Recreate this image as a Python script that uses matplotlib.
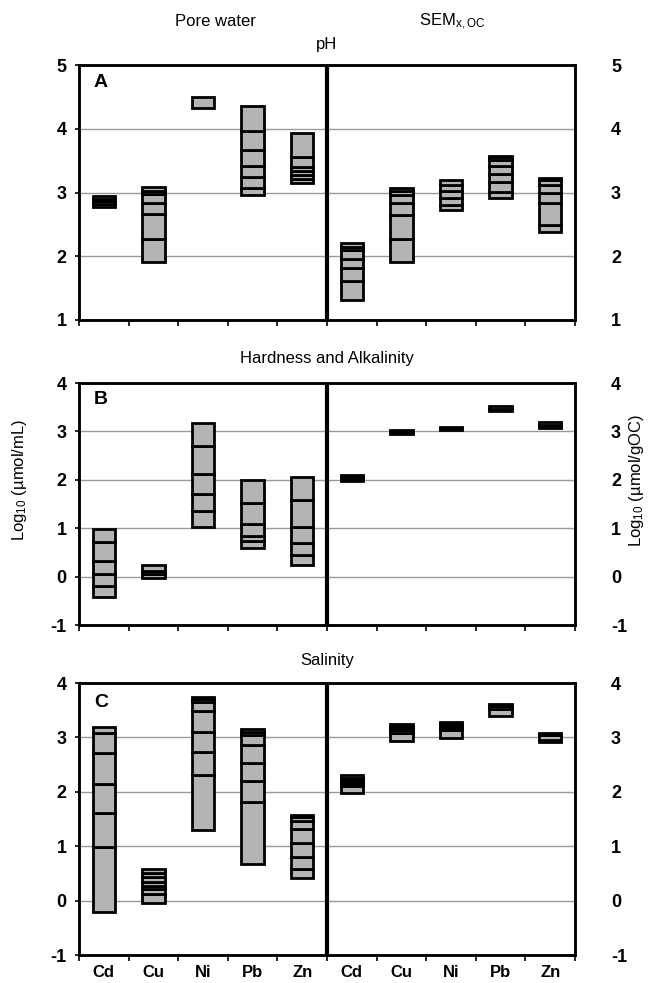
import matplotlib
matplotlib.use("Agg")
import matplotlib.pyplot as plt
import numpy as np

plt.rcParams["font.family"] = ["Liberation Sans", "DejaVu Sans"]
plt.rcParams["mathtext.default"] = "regular"
plt.rcParams["axes.unicode_minus"] = False

METALS = ["Cd", "Cu", "Ni", "Pb", "Zn"]
LABELS = METALS + METALS

# boundaries of the stacked segments, one list per metal (pore water, then SEM)
PH_PORE = [
    [2.78, 2.82, 2.86, 2.90, 2.94],
    [1.91, 2.27, 2.66, 2.83, 2.97, 3.03, 3.09],
    [4.33, 4.50],
    [2.96, 3.07, 3.24, 3.41, 3.66, 3.96, 4.36],
    [3.15, 3.21, 3.28, 3.34, 3.40, 3.55, 3.93],
]
PH_SEM = [
    [1.31, 1.61, 1.81, 1.96, 2.10, 2.15, 2.21],
    [1.91, 2.27, 2.65, 2.84, 2.96, 3.02, 3.07],
    [2.72, 2.80, 2.92, 3.02, 3.11, 3.19],
    [2.92, 3.01, 3.17, 3.29, 3.41, 3.51, 3.55, 3.58],
    [2.38, 2.49, 2.83, 2.99, 3.12, 3.19, 3.23],
]
HA_PORE = [
    [-0.43, -0.19, 0.05, 0.33, 0.71, 0.99],
    [-0.03, 0.05, 0.12, 0.25],
    [1.03, 1.35, 1.71, 2.12, 2.70, 3.17],
    [0.60, 0.73, 0.84, 1.08, 1.52, 1.99],
    [0.23, 0.44, 0.69, 1.03, 1.59, 2.05],
]
HA_SEM = [
    [1.98, 2.02, 2.06, 2.10],
    [2.94, 2.98, 3.02],
    [3.02, 3.06, 3.09],
    [3.43, 3.47, 3.52],
    [3.06, 3.10, 3.14, 3.19],
]
SAL_PORE = [
    [-0.21, 0.98, 1.61, 2.15, 2.72, 3.08, 3.20],
    [-0.04, 0.12, 0.21, 0.27, 0.35, 0.44, 0.51, 0.58],
    [1.30, 2.31, 2.73, 3.10, 3.48, 3.65, 3.70, 3.75],
    [0.67, 1.81, 2.19, 2.53, 2.86, 3.05, 3.10, 3.16],
    [0.41, 0.58, 0.80, 1.06, 1.31, 1.47, 1.53, 1.58],
]
SAL_SEM = [
    [1.98, 2.10, 2.14, 2.18, 2.22, 2.26, 2.30],
    [2.93, 3.09, 3.13, 3.17, 3.21, 3.24],
    [2.99, 3.13, 3.17, 3.21, 3.25, 3.29],
    [3.40, 3.53, 3.58, 3.62],
    [2.91, 2.95, 3.05, 3.08],
]

PANELS = [
    ("A", PH_PORE + PH_SEM, (1, 5), [79, 65, 575, 320]),
    ("B", HA_PORE + HA_SEM, (-1, 4), [79, 383, 575, 625]),
    ("C", SAL_PORE + SAL_SEM, (-1, 4), [79, 683, 575, 955]),
]

W, H = 651, 983
fig = plt.figure(figsize=(W / 100, H / 100), dpi=100)

x = np.arange(len(LABELS))
for letter, bars, ylim, (x0, y0, x1, y1) in PANELS:
    ax = fig.add_axes([x0 / W, 1 - y1 / H, (x1 - x0) / W, (y1 - y0) / H])
    for xi, bounds in zip(x, bars):
        b = np.array(bounds)
        ax.bar(np.full(len(b) - 1, xi), np.diff(b), bottom=b[:-1], width=0.45,
               color="#b4b4b4", edgecolor="black", linewidth=2.0, zorder=3)
    ax.set_xlim(-0.5, 9.5)
    ax.set_ylim(*ylim)
    ax.set_yticks(np.arange(ylim[0], ylim[1] + 1))
    ax.yaxis.grid(True, color="#9a9a9a", linewidth=1.0, zorder=0)
    ax.axvline(4.5, color="black", linewidth=3, zorder=4)
    for s in ax.spines.values():
        s.set_linewidth(1.8)
    ax.set_xticks(np.arange(-0.5, 10, 1))
    ax.set_xticklabels([])
    ax.set_xticks(x, minor=True)
    ax.tick_params(axis="x", which="major", length=4, width=1.2, direction="out")
    ax.tick_params(axis="x", which="minor", length=0)
    if letter == "C":
        ax.set_xticklabels(LABELS, minor=True, fontsize=12, fontweight="bold")
        ax.tick_params(axis="x", which="minor", pad=7)
    ax.tick_params(axis="y", length=3, width=1.2, labelsize=13, pad=6)
    for t in ax.get_yticklabels():
        t.set_fontweight("bold")
    ax.text(0.03, 0.93, letter, transform=ax.transAxes, fontsize=14,
            fontweight="bold", va="center", ha="left")
    ax2 = ax.twinx()
    ax2.set_ylim(*ylim)
    ax2.set_yticks(np.arange(ylim[0], ylim[1] + 1))
    ax2.tick_params(axis="y", length=0, labelsize=13, pad=26)
    for t in ax2.get_yticklabels():
        t.set_fontweight("bold")
    for s in ax2.spines.values():
        s.set_linewidth(1.8)

fig.text(215 / W, 1 - 22 / H, "Pore water", fontsize=12, ha="center", va="center")
fig.text(327 / W, 1 - 44 / H, "pH", fontsize=12, ha="center", va="center")
fig.text(452 / W, 1 - 22 / H, "SEM$_{x,OC}$", fontsize=12, ha="center", va="center")
fig.text(327 / W, 1 - 358 / H, "Hardness and Alkalinity", fontsize=12,
         ha="center", va="center")
fig.text(327 / W, 1 - 660 / H, "Salinity", fontsize=12, ha="center", va="center")
fig.text(20 / W, 1 - 480 / H, "Log$_{10}$ (\u00b5mol/mL)", fontsize=12,
         rotation=90, ha="center", va="center")
fig.text(636 / W, 1 - 480 / H, "Log$_{10}$ (\u00b5mol/gOC)", fontsize=12,
         rotation=90, ha="center", va="center")

fig.savefig("out.png", dpi=100)
